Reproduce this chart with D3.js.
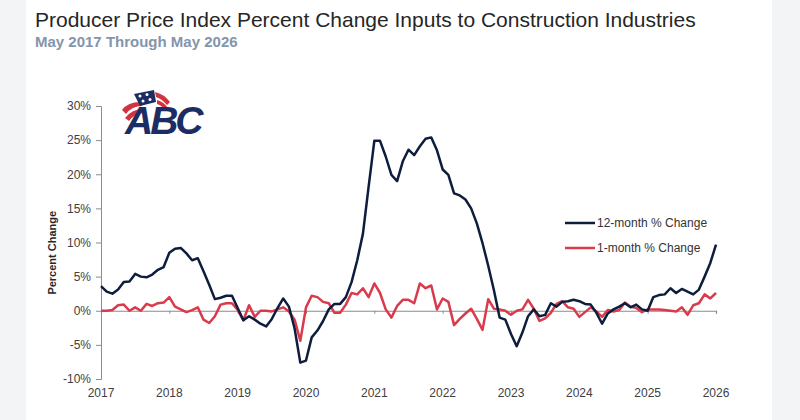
<!DOCTYPE html>
<html>
<head>
<meta charset="utf-8">
<script src="https://cdn.jsdelivr.net/npm/d3@7"></script>
<style>
  body { margin: 0; background: #f3f4f5; }
  svg { display: block; font-family: "Liberation Sans", Arial, sans-serif; }
</style>
</head>
<body>
<div id="chart"></div>
<script>
// monthly readings, May 2017 .. May 2026 (109 months)
const twelveMonth = [
  3.6, 2.8, 2.5, 3.1, 4.2, 4.3, 5.4, 5.0, 4.9, 5.3, 6.0, 6.4,
  8.5, 9.1, 9.2, 8.4, 7.4, 7.7, 5.8, 3.8, 1.7, 1.9, 2.2, 2.2,
  0.4, -1.4, -0.8, -1.3, -1.9, -2.3, -1.2, 0.4, 1.8, 0.6, -2.6, -7.6,
  -7.3, -3.9, -2.9, -1.5, 0.2, 1.0, 1.0, 2.0, 4.2, 7.4, 11.3, 18.2,
  24.9, 24.9, 22.6, 19.9, 19.0, 21.9, 23.6, 22.8, 24.1, 25.2, 25.4, 23.5,
  20.7, 19.9, 17.2, 16.9, 16.3, 15.0, 12.8, 9.9, 6.6, 3.0, -1.0, -1.3,
  -3.4, -5.2, -3.2, -0.8, 0.2, -0.8, -0.6, 1.1, 0.6, 1.3, 1.4, 1.6,
  1.4, 1.0, 0.9, -0.3, -1.9, -0.4, 0.2, 0.6, 1.1, 0.5, 0.9, 0.2,
  0.0, 2.0, 2.3, 2.4, 3.3, 2.6, 3.2, 2.8, 2.4, 3.1, 5.0, 7.0,
  9.7
];
const oneMonth = [
  0.0, 0.0, 0.1, 0.8, 0.9, 0.0, 0.5, 0.0, 1.0, 0.7, 1.1, 1.2,
  2.0, 0.6, 0.2, -0.2, 0.1, 0.5, -1.3, -1.8, -0.8, 0.9, 1.1, 1.1,
  0.1, -1.4, 0.8, -0.9, 0.0, 0.0, -0.1, 0.2, 0.5, -0.1, -1.3, -4.4,
  0.5, 2.2, 2.0, 1.3, 1.1, -0.3, -0.3, 0.9, 2.6, 2.4, 3.3, 2.0,
  4.0, 2.6, 0.2, -1.0, 0.7, 1.6, 1.6, 1.1, 4.0, 3.3, 3.7, 0.2,
  1.8, 1.3, -2.1, -1.2, -0.4, 0.3, -1.2, -2.8, 1.7, 0.3, 0.2, 0.0,
  -0.6, 0.0, 0.2, 1.6, 0.3, -1.5, -1.1, -0.3, 1.0, 1.4, 0.5, 0.3,
  -0.9, -0.2, 0.5, -0.1, -0.9, 0.1, -0.1, 0.1, 1.2, 0.6, 0.4, -0.2,
  0.2, 0.2, 0.2, 0.1, 0.0, -0.1, 0.5, -0.6, 0.8, 1.1, 2.4, 1.8,
  2.6
];
const yearLabels = ["2017", "2018", "2019", "2020", "2021", "2022", "2023", "2024", "2025", "2026"];
const yTicks = [-10, -5, 0, 5, 10, 15, 20, 25, 30];

const W = 800, H = 420;
const svg = d3.select("#chart").append("svg")
  .attr("width", W).attr("height", H);

// white card
svg.append("rect").attr("x", 26).attr("y", 0).attr("width", 746).attr("height", H).attr("fill", "#fff");

svg.append("text").attr("x", 35).attr("y", 27)
  .attr("font-size", 21).attr("fill", "#262626")
  .text("Producer Price Index Percent Change Inputs to Construction Industries");
svg.append("text").attr("x", 35).attr("y", 47)
  .attr("font-size", 15).attr("font-weight", "bold").attr("fill", "#8395ab")
  .text("May 2017 Through May 2026");

const x = d3.scaleLinear().domain([0, twelveMonth.length - 1]).range([101, 716]);
const y = d3.scaleLinear().domain([-10, 30]).range([379, 106]);

// y axis
const yAxis = svg.append("g")
  .attr("transform", "translate(101,0)")
  .call(d3.axisLeft(y).tickValues(yTicks).tickSize(5).tickPadding(5).tickFormat(d => d + "%"));
yAxis.select(".domain").attr("stroke", "#8c8c8c");
yAxis.selectAll(".tick line").attr("stroke", "#8c8c8c");
yAxis.selectAll("text").attr("font-size", 12).attr("fill", "#404040")
  .attr("font-family", "Liberation Sans, Arial, sans-serif");

// zero line with year ticks
const xAxis = svg.append("g")
  .attr("transform", `translate(0,${y(0)})`)
  .call(d3.axisBottom(x).tickValues(yearLabels.map((d, i) => i * 12)).tickSize(3).tickFormat(""));
xAxis.select(".domain").attr("stroke", "#8c8c8c").attr("stroke-width", 1.2);
xAxis.selectAll(".tick line").attr("stroke", "#8c8c8c");

// year labels at the bottom
svg.append("g").selectAll("text")
  .data(yearLabels)
  .enter().append("text")
  .attr("x", (d, i) => x(i * 12))
  .attr("y", 397)
  .attr("text-anchor", "middle")
  .attr("font-size", 12).attr("fill", "#404040")
  .text(d => d);

svg.append("text")
  .attr("transform", `translate(56,${y(8.5)}) rotate(-90)`)
  .attr("text-anchor", "middle")
  .attr("font-size", 11).attr("font-weight", "bold").attr("fill", "#262626")
  .text("Percent Change");

const line = d3.line()
  .x((d, i) => x(i))
  .y(d => y(d))
  .curve(d3.curveLinear);

svg.append("path").datum(oneMonth)
  .attr("fill", "none").attr("stroke", "#d93a4c").attr("stroke-width", 2.5)
  .attr("stroke-linejoin", "round").attr("d", line);
svg.append("path").datum(twelveMonth)
  .attr("fill", "none").attr("stroke", "#0e1d3d").attr("stroke-width", 2.5)
  .attr("stroke-linejoin", "round").attr("d", line);

// legend
const legendItems = [
  { name: "12-month % Change", color: "#0e1d3d" },
  { name: "1-month % Change", color: "#d93a4c" }
];
const legend = svg.selectAll(".legend")
  .data(legendItems)
  .enter().append("g")
  .attr("class", "legend")
  .attr("transform", (d, i) => `translate(565,${223 + i * 25})`);
legend.append("line")
  .attr("x1", 0).attr("x2", 30)
  .attr("stroke", d => d.color).attr("stroke-width", 2.5);
legend.append("text")
  .attr("x", 32).attr("y", 4)
  .attr("font-size", 12).attr("fill", "#333")
  .text(d => d.name);

// ABC logo
const logo = svg.append("g").attr("transform", "translate(120,88)");
logo.append("path").attr("d", "M2,22 Q8,14 20,14 L22,18 Q12,18 6,26 Z").attr("fill", "#d2333f");
logo.append("path").attr("d", "M5,30 Q12,21 23,21 L24,25 Q15,25 9,33 Z").attr("fill", "#d2333f");
logo.append("path").attr("d", "M14,6 L34,2 L36,14 L20,18 Z").attr("fill", "#1c2d63");
logo.append("path").attr("d", "M35,4 Q44,6 50,14 L47,17 Q42,11 36,9 Z").attr("fill", "#d2333f");
logo.append("path").attr("d", "M37,12 Q44,14 48,20 L45,22 Q41,17 37,16 Z").attr("fill", "#d2333f");
[[20, 8], [27, 6.5], [23, 13], [30, 11.5]].forEach(p => {
  logo.append("circle").attr("cx", p[0]).attr("cy", p[1]).attr("r", 1.5).attr("fill", "#fff");
});
logo.append("text").attr("x", 5).attr("y", 46)
  .attr("font-size", 39).attr("font-weight", "bold").attr("font-style", "italic")
  .attr("letter-spacing", -3).attr("fill", "#1c2d63")
  .text("ABC");
</script>
</body>
</html>
